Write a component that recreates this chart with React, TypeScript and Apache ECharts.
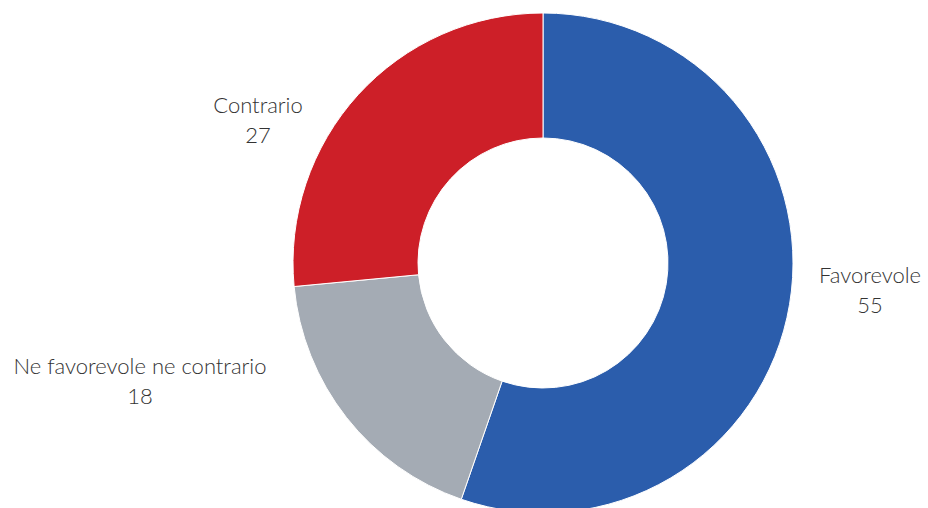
import React, { useEffect, useRef } from "react";
import * as echarts from "echarts";

const categories = ["Favorevole", "Ne favorevole ne contrario", "Contrario"];
const values = [55.3, 18.2, 26.5];
const colors = ["#2B5DAC", "#A4ABB4", "#CD1F28"];
// label block centres (px) as placed in the reference
const labelX = [870, 140, 258];
const labelY = [289, 380, 119];

export default function App() {
  const ref = useRef<HTMLDivElement>(null);
  useEffect(() => {
    const chart = echarts.init(ref.current!, null, { renderer: "svg" });
    chart.setOption({
      animation: false,
      series: [
        {
          type: "pie",
          center: [543, 263],
          radius: [125, 250],
          startAngle: 90,
          clockwise: true,
          data: categories.map((c, i) => ({
            name: c,
            value: values[i],
            itemStyle: { color: colors[i] },
          })),
          itemStyle: { borderColor: "#ffffff", borderWidth: 1 },
          label: {
            show: true,
            position: "outside",
            formatter: (p: any) => p.name + "\n" + Math.round(p.value),
            fontFamily: "Lato",
            fontWeight: 300,
            fontSize: 22,
            lineHeight: 30,
            color: "#333333",
            overflow: "none",
            edgeDistance: 0,
            bleedMargin: 0,
          },
          labelLine: { show: false, length: 14, length2: 10 },
          labelLayout: (p: any) => ({
            x: labelX[p.dataIndex],
            y: labelY[p.dataIndex],
            align: "center",
            verticalAlign: "middle",
          }),
          emphasis: { disabled: true },
        },
      ],
    });
    return () => chart.dispose();
  }, []);
  return (
    <div
      ref={ref}
      style={{ position: "absolute", left: 0, top: 0, width: 928, height: 508 }}
    />
  );
}
